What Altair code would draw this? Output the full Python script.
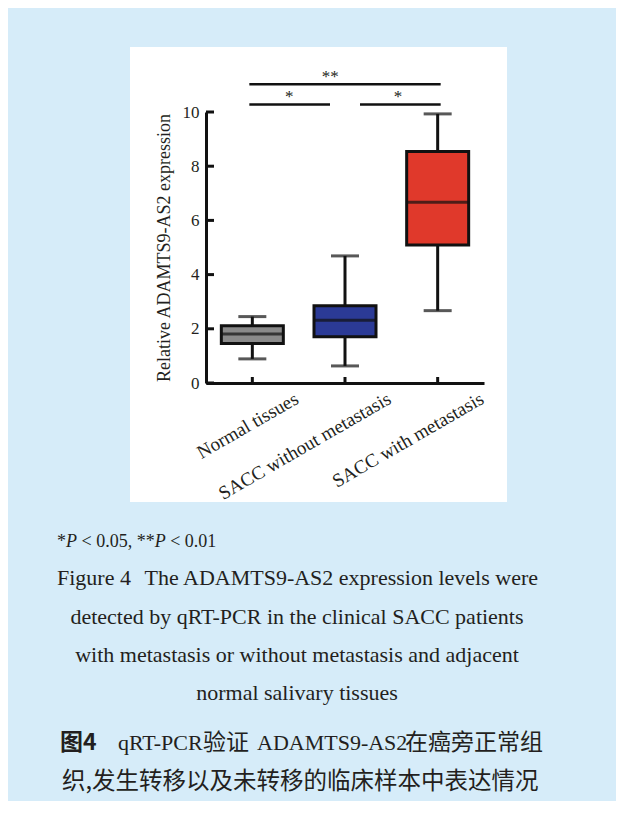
import altair as alt
import pandas as pd

# ---------------- data ----------------
groups = ["Normal tissues", "SACC without metastasis", "SACC with metastasis"]
whisker_low = [0.89, 0.63, 2.67]
q1 = [1.46, 1.71, 5.09]
median = [1.81, 2.32, 6.67]
q3 = [2.11, 2.85, 8.54]
whisker_high = [2.45, 4.69, 9.93]
box_colors = ["#8a8a8a", "#2b3a96", "#e0392b"]
y_ticks = [0, 2, 4, 6, 8, 10]

bracket_start = ["Normal tissues", "SACC without metastasis", "Normal tissues"]
bracket_end = ["SACC without metastasis", "SACC with metastasis", "SACC with metastasis"]
bracket_level = [10.28, 10.28, 11.02]
bracket_label = ["*", "*", "**"]

y_title = "Relative ADAMTS9-AS2 expression"
sig_note = ["*", "P", "< 0.05, **", "P", "< 0.01"]
caption_en = [
    "The ADAMTS9-AS2 expression levels were",
    "detected by qRT-PCR in the clinical SACC patients",
    "with metastasis or without metastasis and adjacent",
    "normal salivary tissues",
]
fig_label_en = "Figure 4"
fig_label_cn = "图4"
caption_cn_1 = ["qRT-PCR", "验证", "ADAMTS9-AS2", "在癌旁正常组"]
caption_cn_2 = "织,发生转移以及未转移的临床样本中表达情况"

# ---------------- layout ----------------
W, H = 278, 271           # plot area
OX, OY = 206, 112         # plot origin on the page
TOTAL_W, TOTAL_H = 608, 793
BG = "#d6ecf9"
INK = "#111111"
TXT = "#231f20"
SERIF = "Liberation Serif"
CJK = "Noto Sans CJK SC"

def px(x):
    return x - OX

def py(y):
    return y - OY

df = pd.DataFrame({
    "group": groups, "lo": whisker_low, "q1": q1, "median": median,
    "q3": q3, "hi": whisker_high,
})

xscale = alt.Scale(domain=groups, paddingInner=0, paddingOuter=0)
yscale = alt.Scale(domain=[0, 10], nice=False, zero=True)
xaxis = alt.Axis(title=None, ticks=False, grid=False, domainWidth=3, domainColor=INK,
                 labelAngle=-30, labelAlign="right", labelBaseline="top",
                 labelOffset=40, labelPadding=6, labelFont=SERIF, labelFontSize=19,
                 labelColor=TXT, labelLimit=400, zindex=1)
yaxis = alt.Axis(title=y_title, values=y_ticks, ticks=False, grid=False, domainWidth=3,
                 domainColor=INK, labelFont=SERIF, labelFontSize=17, labelColor=TXT,
                 labelPadding=7, titleFont=SERIF, titleFontSize=18, titleFontWeight="normal",
                 titleColor=TXT, titlePadding=9, zindex=1)

def X(field="group"):
    return alt.X(f"{field}:N", scale=xscale, axis=xaxis, sort=groups)

def Y(field):
    return alt.Y(f"{field}:Q", scale=yscale, axis=yaxis)

one = pd.DataFrame({"k": [0]})

def text_at(txt, x, y, size, font=SERIF, align="left", weight="normal", style="normal"):
    return alt.Chart(pd.DataFrame({"t": [txt]})).mark_text(
        align=align, baseline="alphabetic", font=font, fontSize=size, fontWeight=weight,
        fontStyle=style, color=TXT
    ).encode(x=alt.value(px(x)), y=alt.value(py(y)), text="t:N")

layers = []

# white panel
layers.append(alt.Chart(one).mark_rect(color="white").encode(
    x=alt.value(px(130)), x2=alt.value(px(507)), y=alt.value(py(47)), y2=alt.value(py(502))))

# whiskers
layers.append(alt.Chart(df).mark_rule(color=INK, strokeWidth=3).encode(
    x=X(), y=Y("lo"), y2="q1:Q"))
layers.append(alt.Chart(df).mark_rule(color=INK, strokeWidth=3).encode(
    x=X(), y=Y("q3"), y2="hi:Q"))
# caps
layers.append(alt.Chart(df).mark_tick(color=INK, size=28, thickness=3).encode(
    x=X(), y=Y("lo")))
layers.append(alt.Chart(df).mark_tick(color=INK, size=28, thickness=3).encode(
    x=X(), y=Y("hi")))
# boxes
layers.append(alt.Chart(df).mark_bar(size=62, stroke=INK, strokeWidth=3).encode(
    x=X(), y=Y("q1"), y2="q3:Q",
    fill=alt.Fill("group:N", scale=alt.Scale(domain=groups, range=box_colors), legend=None)))
# medians
layers.append(alt.Chart(df).mark_tick(color=INK, size=62, thickness=3).encode(
    x=X(), y=Y("median")))

# inward axis ticks
layers.append(alt.Chart(pd.DataFrame({"tick": y_ticks})).mark_rule(color=INK, strokeWidth=3).encode(
    y=Y("tick"), x=alt.value(0), x2=alt.value(8)))
layers.append(alt.Chart(pd.DataFrame({"group": groups})).mark_rule(color=INK, strokeWidth=3).encode(
    x=X(), y=alt.value(H), y2=alt.value(H - 6)))

# significance brackets
br = pd.DataFrame({"group": bracket_start, "end": bracket_end, "level": bracket_level,
                   "label": bracket_label})
rule_offsets = [(-3, -15), (15, 3), (-3, 3)]
text_dx = [37, 53, 78]
for i in range(len(br)):
    row = br.iloc[[i]]
    layers.append(alt.Chart(row).mark_rule(color=INK, strokeWidth=2.5,
                                           xOffset=rule_offsets[i][0],
                                           x2Offset=rule_offsets[i][1]).encode(
        x=X(), x2="end:N", y=Y("level")))
    layers.append(alt.Chart(row).mark_text(font=SERIF, fontSize=17, color=TXT,
                                           baseline="alphabetic", dx=text_dx[i], dy=-2).encode(
        x=X(), y=Y("level"), text="label:N"))

# captions
sig_x = [57, 66, 81.5, 154.7, 170.2]
for seg, x in zip(sig_note, sig_x):
    layers.append(text_at(seg, x, 547, 18, style="italic" if seg == "P" else "normal"))

layers.append(text_at(fig_label_en, 57, 585, 22))
layers.append(text_at(caption_en[0], 538, 585, 22, align="right"))
en_y = [624, 662, 700]
for line, y in zip(caption_en[1:], en_y):
    layers.append(text_at(line, 297, y, 22, align="center"))

layers.append(text_at(fig_label_cn, 60, 750, 23, font=CJK, weight="bold"))
cn1_x = [118, 203, 257, 405]
for seg, x in zip(caption_cn_1, cn1_x):
    is_latin = seg.isascii()
    layers.append(text_at(seg, x, 750, 22 if is_latin else 23, font=SERIF if is_latin else CJK))
layers.append(text_at(caption_cn_2, 62, 789, 23.5, font=CJK))

chart = alt.layer(*layers).properties(
    width=W, height=H,
    autosize=alt.AutoSizeParams(type="none"),
    padding={"left": OX - 8, "top": OY - 8,
             "right": TOTAL_W - (OX - 8) - W, "bottom": TOTAL_H - (OY - 8) - H},
    background=BG,
).configure_view(strokeWidth=0)

chart.save("out.html", embed_options={"renderer": "svg", "actions": False})
